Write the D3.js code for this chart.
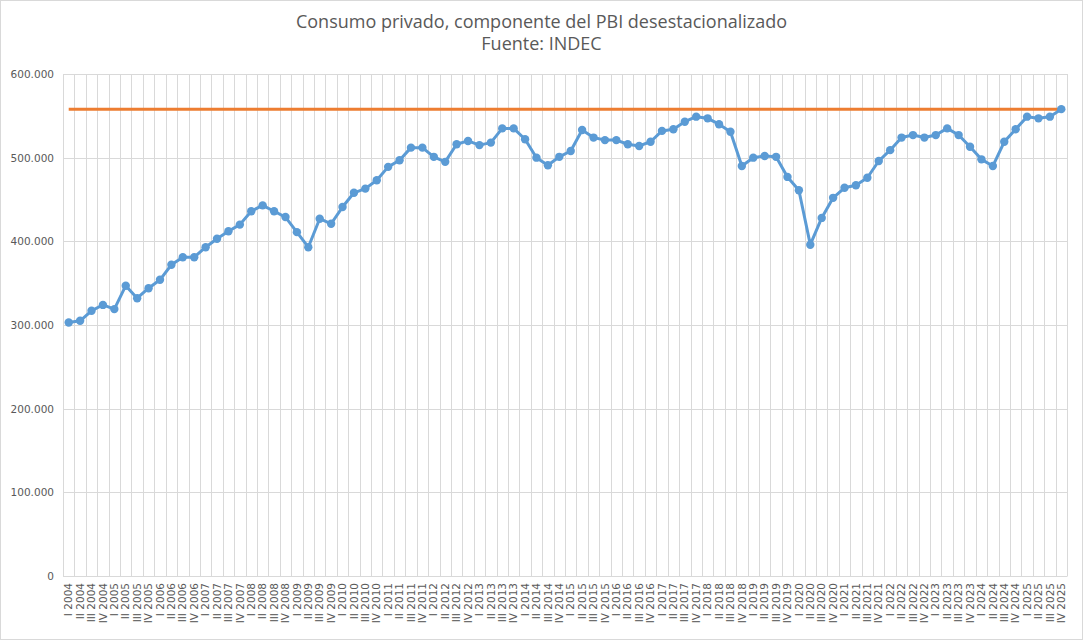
<!DOCTYPE html>
<html lang="es">
<head>
<meta charset="UTF-8" />
<title>Consumo privado</title>
<style>
  html, body { margin: 0; padding: 0; background: #fff; }
  svg { display: block; font-family: "Open Sans", sans-serif; }
</style>
</head>
<body>
<script src="https://d3js.org/d3.v7.min.js"></script>
<script>
const years = d3.range(2004, 2026);
const quarters = ["I", "II", "III", "IV"];
const categories = years.flatMap(y => quarters.map(q => `${q} ${y}`));

// consumo privado desestacionalizado (millones de pesos de 2004)
const consumo = [
  303000, 305000, 317000, 324000,
  319000, 347000, 332000, 344000,
  354000, 372000, 381000, 381000,
  393000, 403000, 412000, 420000,
  436000, 443000, 436000, 429000,
  411000, 393000, 427000, 421000,
  441000, 458000, 463000, 473000,
  489000, 497000, 512000, 512000,
  501000, 495000, 516000, 520000,
  515000, 518000, 535000, 535000,
  522000, 500000, 491000, 501000,
  508000, 533000, 524000, 521000,
  521000, 516000, 514000, 519000,
  532000, 534000, 543000, 549000,
  547000, 540000, 531000, 490000,
  500000, 502000, 501000, 477000,
  461000, 396000, 428000, 452000,
  464000, 467000, 476000, 496000,
  509000, 524000, 527000, 524000,
  527000, 535000, 527000, 513000,
  498000, 490000, 519000, 534000,
  549000, 547000, 549000, 558000
];
const maximo = categories.map(() => d3.max(consumo));

const yTicks = [0, 100000, 200000, 300000, 400000, 500000, 600000];

const width = 1083, height = 640;
const margin = {top: 74, right: 16, bottom: 64, left: 63};

const fmt = d3.formatLocale({decimal: ",", thousands: ".", grouping: [3], currency: ["", ""]}).format(",d");

const svg = d3.select("body").append("svg")
  .attr("width", width)
  .attr("height", height);

svg.append("rect")
  .attr("x", 0.5).attr("y", 0.5)
  .attr("width", width - 1).attr("height", height - 1)
  .attr("fill", "#fff").attr("stroke", "#d9d9d9");

const x = d3.scaleBand()
  .domain(categories)
  .range([margin.left, width - margin.right])
  .padding(0);

const y = d3.scaleLinear()
  .domain([0, 600000])
  .range([height - margin.bottom, margin.top]);

const cx = d => x(d) + x.bandwidth() / 2;

// grid
const grid = svg.append("g").attr("stroke", "#d9d9d9").attr("stroke-width", 1);
grid.selectAll("line.h").data(yTicks).join("line")
  .attr("class", "h")
  .attr("x1", margin.left).attr("x2", width - margin.right)
  .attr("y1", d => Math.round(y(d)) + 0.5).attr("y2", d => Math.round(y(d)) + 0.5);
grid.selectAll("line.v").data(categories.concat([null])).join("line")
  .attr("class", "v")
  .attr("x1", (d, i) => Math.round(margin.left + i * x.bandwidth()) + 0.5)
  .attr("x2", (d, i) => Math.round(margin.left + i * x.bandwidth()) + 0.5)
  .attr("y1", margin.top).attr("y2", height - margin.bottom);

// y axis labels
const yAxis = svg.append("g")
  .attr("transform", `translate(${margin.left},0)`)
  .call(d3.axisLeft(y).tickValues(yTicks).tickFormat(fmt).tickSize(0).tickPadding(9));
yAxis.select(".domain").remove();
yAxis.selectAll("text")
  .attr("fill", "#595959")
  .style("font-family", "'DejaVu Sans', sans-serif")
  .style("font-size", "10.5px");

// x axis labels
const xAxis = svg.append("g")
  .attr("transform", `translate(0,${height - margin.bottom})`)
  .call(d3.axisBottom(x).tickSize(0).tickPadding(0));
xAxis.select(".domain").attr("stroke", "#d9d9d9");
xAxis.selectAll("text")
  .attr("fill", "#595959")
  .style("font-family", "'DejaVu Sans', sans-serif")
  .style("font-size", "10.5px")
  .attr("text-anchor", "end")
  .attr("transform", "rotate(-90)")
  .attr("x", -7)
  .attr("y", 0)
  .attr("dy", "0.35em");

// max line
svg.append("path")
  .datum(maximo)
  .attr("fill", "none")
  .attr("stroke", "#ED7D31")
  .attr("stroke-width", 3)
  .attr("d", d3.line().x((d, i) => cx(categories[i])).y(d => y(d)));

// consumo series
svg.append("path")
  .datum(consumo)
  .attr("fill", "none")
  .attr("stroke", "#5B9BD5")
  .attr("stroke-width", 3)
  .attr("stroke-linejoin", "round")
  .attr("d", d3.line().x((d, i) => cx(categories[i])).y(d => y(d)));

svg.append("g")
  .selectAll("circle")
  .data(consumo)
  .join("circle")
  .attr("cx", (d, i) => cx(categories[i]))
  .attr("cy", d => y(d))
  .attr("r", 4.2)
  .attr("fill", "#5B9BD5");

// title
const title = svg.append("text")
  .attr("x", width / 2)
  .attr("text-anchor", "middle")
  .attr("fill", "#595959")
  .style("font-size", "18px");
title.append("tspan").attr("x", width / 2).attr("y", 28)
  .text("Consumo privado, componente del PBI desestacionalizado");
title.append("tspan").attr("x", width / 2).attr("y", 50)
  .text("Fuente: INDEC");
</script>
</body>
</html>
